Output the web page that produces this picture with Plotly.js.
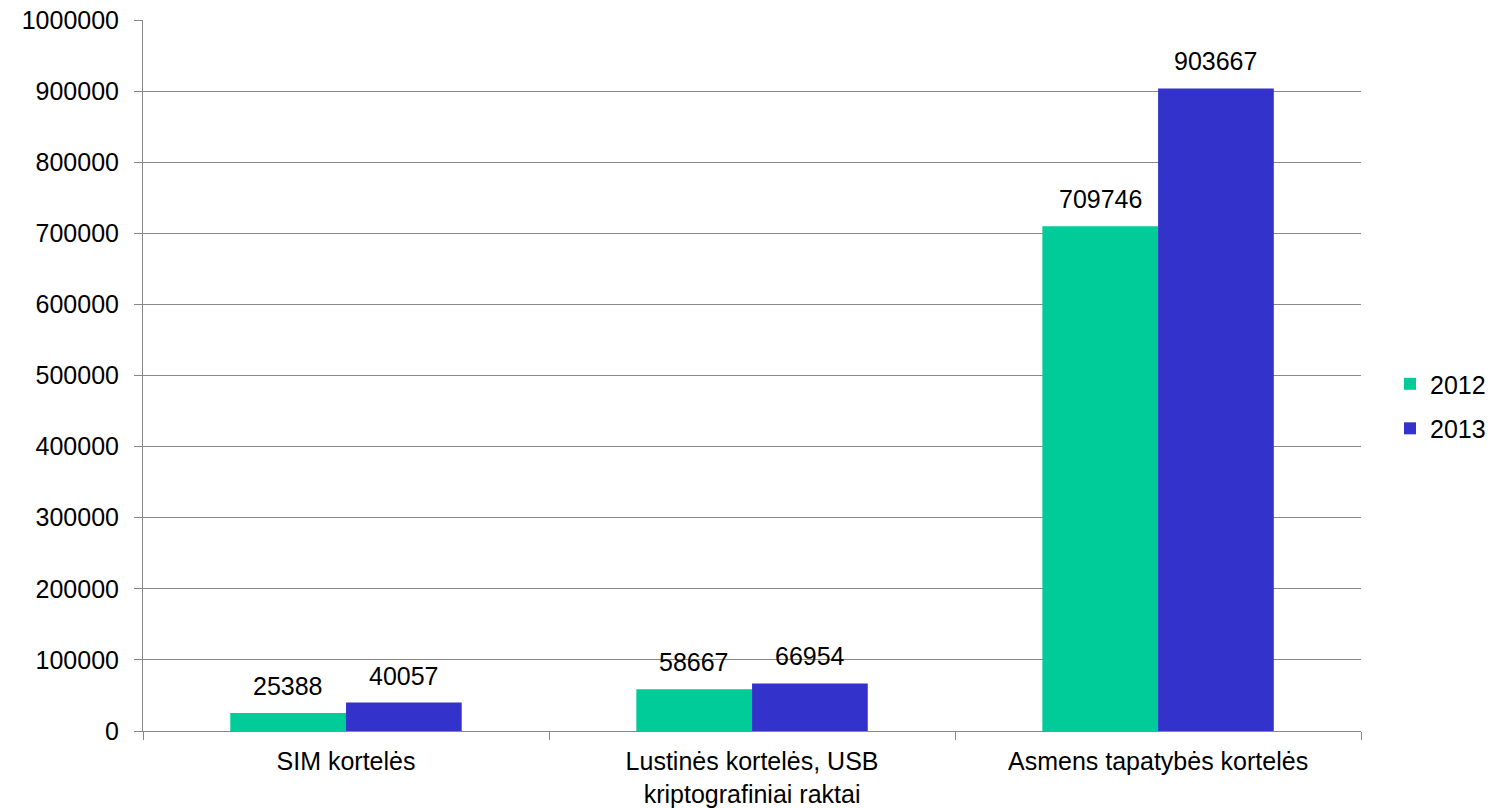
<!DOCTYPE html>
<html>
<head>
<meta charset="utf-8">
<script src="https://cdn.plot.ly/plotly-3.0.1.min.js"></script>
<style>html,body{margin:0;padding:0;background:#fff;}#chart{width:1491px;height:808px;}</style>
</head>
<body>
<div id="chart"></div>
<script>
const categories = ["SIM kortelės", "Lustinės kortelės, USB<br>kriptografiniai raktai", "Asmens tapatybės kortelės"];
const values2012 = [25388, 58667, 709746];
const values2013 = [40057, 66954, 903667];
const seriesNames = ["2012", "2013"];
const seriesColors = ["#00CC99", "#3333CC"];
const yTicks = [0, 100000, 200000, 300000, 400000, 500000, 600000, 700000, 800000, 900000, 1000000];

const font = {family: "Liberation Sans, Arial, sans-serif", size: 25, color: "#000"};
const bargap = 0.43;
const allSeries = [values2012, values2013];
const data = allSeries.map((vals, s) => ({
  type: "bar", name: seriesNames[s], x: categories, y: vals,
  legendgroup: "g" + s,
  marker: {color: seriesColors[s], line: {width: 0}},
  hoverinfo: "none"
}));

// value labels placed above each bar (derived from data arrays and the bar layout)
const barW = (1 - bargap) / allSeries.length;
const annotations = [];
allSeries.forEach((vals, s) => {
  vals.forEach((v, i) => {
    annotations.push({
      x: i + (s - (allSeries.length - 1) / 2) * barW, y: v,
      xref: "x", yref: "y", text: String(v), showarrow: false,
      yanchor: "bottom", yshift: 11, font: font
    });
  });
});

const layout = {
  width: 1491, height: 808,
  margin: {l: 143, r: 0, t: 20, b: 77},
  paper_bgcolor: "#fff", plot_bgcolor: "#fff",
  font: font,
  barmode: "group", bargap: bargap, bargroupgap: 0,
  annotations: annotations,
  xaxis: {
    type: "category", range: [-0.5, 2.5], domain: [0, 0.9043],
    showline: true, linecolor: "#888", linewidth: 1,
    ticks: "outside", tickson: "boundaries", ticklen: 8, tickcolor: "#888",
    showgrid: false, tickfont: font, automargin: false, ticklabelstandoff: 8
  },
  yaxis: {
    range: [0, 1000000], tickvals: yTicks, ticktext: yTicks.map(String),
    showline: true, linecolor: "#888", linewidth: 1,
    ticks: "outside", ticklen: 8, tickcolor: "#888",
    showgrid: true, gridcolor: "#888", gridwidth: 1,
    zeroline: false, tickfont: font, automargin: false, ticklabelstandoff: 10
  },
  legend: {x: 0.926, y: 0.457, xanchor: "left", yanchor: "middle", font: font,
           traceorder: "grouped", tracegroupgap: 9, itemwidth: 30},
  showlegend: true
};
Plotly.newPlot("chart", data, layout, {displayModeBar: false, staticPlot: true});
</script>
</body>
</html>
